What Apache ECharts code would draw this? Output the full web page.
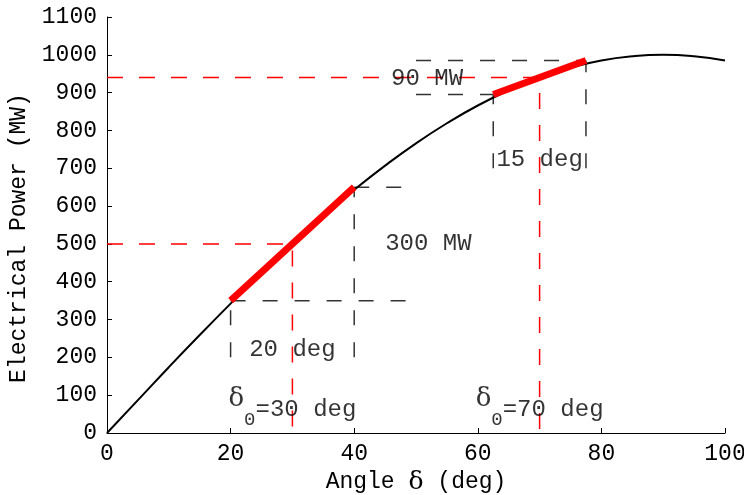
<!DOCTYPE html>
<html>
<head>
<meta charset="utf-8">
<script src="https://cdn.jsdelivr.net/npm/echarts@6/dist/echarts.min.js"></script>
<style>
  html, body { margin: 0; padding: 0; background: #ffffff; }
  #chart { width: 744px; height: 495px; }
</style>
</head>
<body>
<div id="chart"></div>
<script>
// Power-angle curve of the machine (deg, MW)
const angles = [0, 5, 10, 15, 20, 25, 30, 35, 40, 45, 50, 55, 60, 65, 70, 75, 80, 85, 90, 95, 100];
const power  = [0, 87, 174, 259, 342, 423, 500, 574, 643, 707, 766, 819, 866, 906, 940, 966, 985, 996, 1000, 996, 985];

// Two operating points and their linearised segments
const delta0    = [30, 70];
const power0    = [500, 940];
const spanLeft  = [20, 62.5];
const spanRight = [40, 77.5];
const spanLow   = [350, 895];
const spanHigh  = [650, 985];
const guideEdge = [50, 50];    // where the horizontal guides stop / start
const guideFoot = [200, 700];  // lower end of the vertical guides

const FONT = 'Liberation Mono';
const TXT = '#000000';

const curve = angles.map((a, i) => [a, power[i]]);

// red dashed lines to the operating points
const opLines = delta0.map((d, i) => [[0, power0[i]], [d, power0[i]], [d, 0]]);

// black dashed guides around each linearised segment
const guides = [
  // left pair: verticals drawn upward, horizontals run out to the right
  [[spanLeft[0], guideFoot[0]], [spanLeft[0], spanLow[0]]],
  [[spanLeft[0], spanLow[0]], [guideEdge[0], spanLow[0]]],
  [[spanRight[0], guideFoot[0]], [spanRight[0], spanHigh[0]]],
  [[spanRight[0], spanHigh[0]], [guideEdge[0], spanHigh[0]]],
  // right pair: horizontals come in from the left
  [[spanLeft[1], guideFoot[1]], [spanLeft[1], spanLow[1]]],
  [[guideEdge[1], spanLow[1]], [spanLeft[1], spanLow[1]]],
  [[spanRight[1], guideFoot[1]], [spanRight[1], spanHigh[1]]],
  [[guideEdge[1], spanHigh[1]], [spanRight[1], spanHigh[1]]]
];

const segments = spanLeft.map((x, i) => [[x, spanLow[i]], [spanRight[i], spanHigh[i]]]);

// text notes
const notes = [
  { name: (spanRight[0] - spanLeft[0]) + ' deg', value: [30, 220] },
  { name: (spanHigh[0] - spanLow[0]) + ' MW', value: [52, 500] },
  { name: (spanHigh[1] - spanLow[1]) + ' MW', value: [51.8, 937] },
  { name: (spanRight[1] - spanLeft[1]) + ' deg', value: [70, 722] },
  { name: '{d|δ}{s|0}=' + delta0[0] + ' deg', value: [delta0[0], 63] },
  { name: '{d|δ}{s|0}=' + delta0[1] + ' deg', value: [delta0[1], 63] }
];

function dashed(points, color, width, dash, z) {
  return {
    type: 'line', data: points, showSymbol: false, silent: true, z: z,
    lineStyle: { color: color, width: width, type: dash }
  };
}

const series = [];
opLines.forEach(p => series.push(dashed(p, '#ff0000', 1.5, [16, 16], 1)));
guides.forEach(p => series.push(dashed(p, '#333333', 1.5, [15, 17], 1)));
series.push({
  type: 'line', data: curve, smooth: true, showSymbol: false, z: 2, silent: true,
  lineStyle: { color: '#000000', width: 2 }
});
segments.forEach(p => series.push({
  type: 'line', data: p, showSymbol: false, z: 3, silent: true,
  lineStyle: { color: '#ff0000', width: 7, cap: 'butt' }
}));
series.push({
  type: 'scatter', z: 4, symbolSize: 1, silent: true, itemStyle: { color: 'rgba(0,0,0,0)' },
  data: notes,
  label: {
    show: true, position: 'inside', formatter: '{b}',
    fontFamily: FONT, fontSize: 24, color: TXT,
    rich: {
      d: { fontFamily: 'DejaVu Serif', fontSize: 26, color: TXT, padding: [0, 0, 20, 0] },
      s: { fontFamily: FONT, fontSize: 19, color: TXT, padding: [22, 0, 0, 0] }
    }
  }
});

const chart = echarts.init(document.getElementById('chart'), null, { renderer: 'canvas' });
chart.setOption({
  animation: false,
  backgroundColor: '#ffffff',
  grid: { left: 107, right: 19, top: 17, bottom: 62, containLabel: false, outerBoundsMode: 'none' },
  xAxis: {
    type: 'value', min: 0, max: 100, interval: 20,
    name: 'Angle {d|δ} (deg)', nameLocation: 'middle', nameGap: 36,
    nameTextStyle: {
      fontFamily: FONT, fontSize: 23, color: TXT,
      rich: { d: { fontFamily: 'DejaVu Serif', fontSize: 25, color: TXT } }
    },
    axisLine: { lineStyle: { color: '#000', width: 1 } },
    axisTick: { inside: true, length: 5, lineStyle: { color: '#000' } },
    axisLabel: { fontFamily: FONT, fontSize: 23, color: TXT, margin: 9, formatter: v => String(v) },
    splitLine: { show: false }
  },
  yAxis: {
    type: 'value', min: 0, max: 1100, interval: 100,
    name: 'Electrical Power (MW)', nameLocation: 'middle', nameGap: 76, nameRotate: 90,
    nameTextStyle: { fontFamily: FONT, fontSize: 23, color: TXT, padding: [0, 26, 0, 0] },
    axisLine: { show: true, lineStyle: { color: '#000', width: 1 } },
    axisTick: { show: true, inside: true, length: 5, lineStyle: { color: '#000' } },
    axisLabel: { fontFamily: FONT, fontSize: 23, color: TXT, margin: 10, formatter: v => String(v) },
    splitLine: { show: false }
  },
  series: series
});
</script>
</body>
</html>
